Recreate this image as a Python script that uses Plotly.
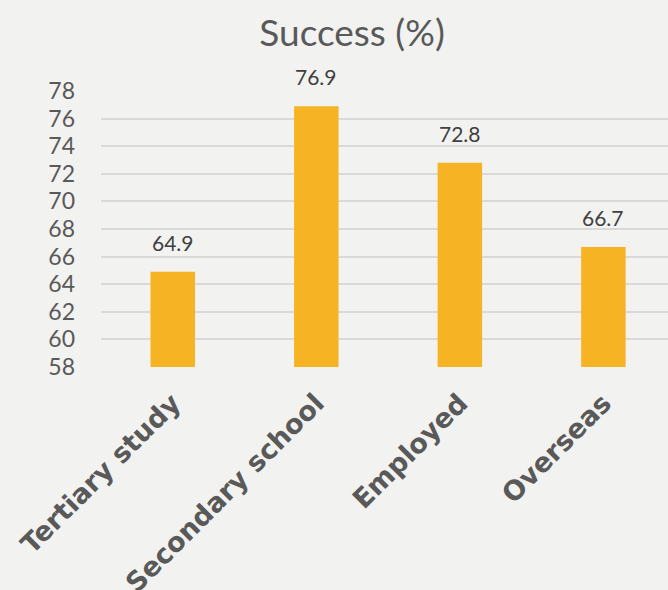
import plotly.graph_objects as go

categories = ["Tertiary study", "Secondary school", "Employed", "Overseas"]
values = [64.9, 76.9, 72.8, 66.7]
labels = ["64.9", "76.9", "72.8", "66.7"]
y_ticks = [58, 60, 62, 64, 66, 68, 70, 72, 74, 76, 78]
y_base = 58

BAR = "#F6B324"
BG = "#F2F2F0"
TXT = "#595959"
FONT = "Lato"

fig = go.Figure()
fig.add_trace(go.Bar(x=categories, y=[v - y_base for v in values], base=y_base,
                     marker=dict(color=BAR, line=dict(width=0)),
                     width=0.31, hoverinfo="skip"))

for c, v, t in zip(categories, values, labels):
    fig.add_annotation(x=c, y=v, text=t, showarrow=False, yanchor="bottom", yshift=15,
                       font=dict(family=FONT, size=21, color="#404040"))

fig.update_layout(
    width=668, height=590,
    paper_bgcolor=BG, plot_bgcolor=BG,
    margin=dict(l=101, r=0, t=91, b=223, autoexpand=False),
    showlegend=False,
    title=dict(text="Success (%)", x=0.527, xref="container", xanchor="center",
               y=0.944, yref="container", yanchor="middle",
               font=dict(family=FONT, size=37, color=TXT)),
    xaxis=dict(range=[-0.5, 3.45], tickangle=-45, showgrid=False, showline=False, zeroline=False,
               tickfont=dict(family="DejaVu Sans", size=27, color=TXT, weight="bold"),
               ticks="", ticklabelstandoff=14, automargin=False),
    yaxis=dict(range=[58, 78], tickvals=y_ticks, ticktext=[str(t) for t in y_ticks],
               showgrid=True, gridcolor="#D9D9D9", gridwidth=1.5, zeroline=False, showline=False,
               tickfont=dict(family=FONT, size=23, color=TXT), ticks="", ticklabelstandoff=25,
               automargin=False),
)

fig.write_html("out.html", config={"displayModeBar": False},
               post_script="document.body.style.margin='0';document.body.style.background='#F2F2F0';")
